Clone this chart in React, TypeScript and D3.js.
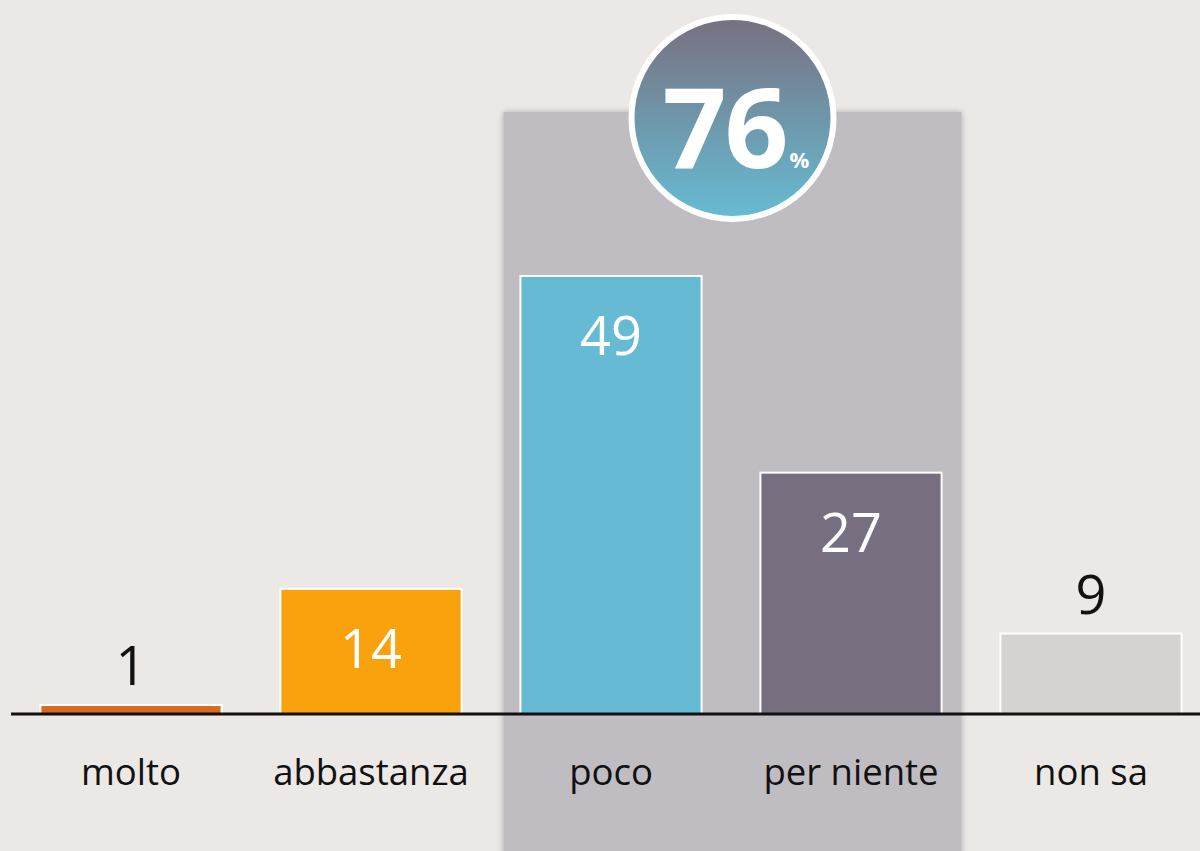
import React from "react";
import * as d3 from "d3";

const categories = ["molto", "abbastanza", "poco", "per niente", "non sa"];
const values = [1, 14, 49, 27, 9];
const colors = ["#d9691e", "#f9a20e", "#67bad4", "#776e80", "#d6d2d1"];
const labelInside = [false, true, true, true, false];
const highlightTotal = 76;
const highlightCats = ["poco", "per niente"];

const W = 1200;
const H = 851;

export default function App() {
  const x = d3
    .scaleBand<string>()
    .domain(categories)
    .range([11, 1211])
    .paddingInner(0.245)
    .paddingOuter(0.1225);
  const y = d3.scaleLinear().domain([0, 49]).range([714, 276]);
  const font = "'Open Sans', 'Liberation Sans', sans-serif";
  const hx0 = (x(highlightCats[0]) as number) - 17;
  const hx1 = (x(highlightCats[1]) as number) + x.bandwidth() + 20;
  const cx = (hx0 + hx1) / 2;
  return (
    <svg
      width={W}
      height={H}
      style={{ position: "absolute", left: 0, top: 0, display: "block" }}
    >
      <defs>
        <linearGradient id="circ" x1="0" y1="0" x2="0" y2="1">
          <stop offset="0%" stopColor="#78707f" />
          <stop offset="100%" stopColor="#66bcd4" />
        </linearGradient>
        <filter id="sh" x="-10%" y="-10%" width="120%" height="120%">
          <feGaussianBlur in="SourceAlpha" stdDeviation="3" />
          <feOffset dx="0" dy="0" result="b" />
          <feComponentTransfer>
            <feFuncA type="linear" slope="0.25" />
          </feComponentTransfer>
          <feMerge>
            <feMergeNode />
            <feMergeNode in="SourceGraphic" />
          </feMerge>
        </filter>
      </defs>
      <rect x={0} y={0} width={W} height={H} fill="#ece8e5" />
      <rect
        x={hx0}
        y={112}
        width={hx1 - hx0}
        height={H - 112 + 10}
        fill="#bfbdc1"
        filter="url(#sh)"
      />
      {categories.map((c, i) => {
        const bx = x(c) as number;
        const by = y(values[i]);
        return (
          <g key={c}>
            <rect
              x={bx}
              y={by}
              width={x.bandwidth()}
              height={y(0) - by}
              fill={colors[i]}
              stroke="#ffffff"
              strokeWidth={2}
            />
            <text
              x={bx + x.bandwidth() / 2}
              y={labelInside[i] ? by + 79 : by - 20}
              textAnchor="middle"
              fontFamily={font}
              fontSize={54}
              fill={labelInside[i] ? "#ffffff" : "#111111"}
            >
              {values[i]}
            </text>
            <text
              x={bx + x.bandwidth() / 2}
              y={785}
              textAnchor="middle"
              fontFamily={font}
              fontSize={36.5}
              fill="#111111"
            >
              {c}
            </text>
          </g>
        );
      })}
      <line x1={11} x2={1200} y1={y(0)} y2={y(0)} stroke="#111111" strokeWidth={3} />
      <circle cx={cx} cy={118} r={101} fill="url(#circ)" stroke="#ffffff" strokeWidth={6} />
      <text
        x={cx - 8}
        y={168}
        textAnchor="middle"
        fontFamily={font}
        fontWeight="bold"
        fontSize={112}
        fill="#ffffff"
        letterSpacing={-2}
      >
        {highlightTotal}
      </text>
      <text
        x={cx + 67}
        y={168}
        textAnchor="middle"
        fontFamily={font}
        fontWeight="bold"
        fontSize={22}
        fill="#ffffff"
      >
        %
      </text>
    </svg>
  );
}
